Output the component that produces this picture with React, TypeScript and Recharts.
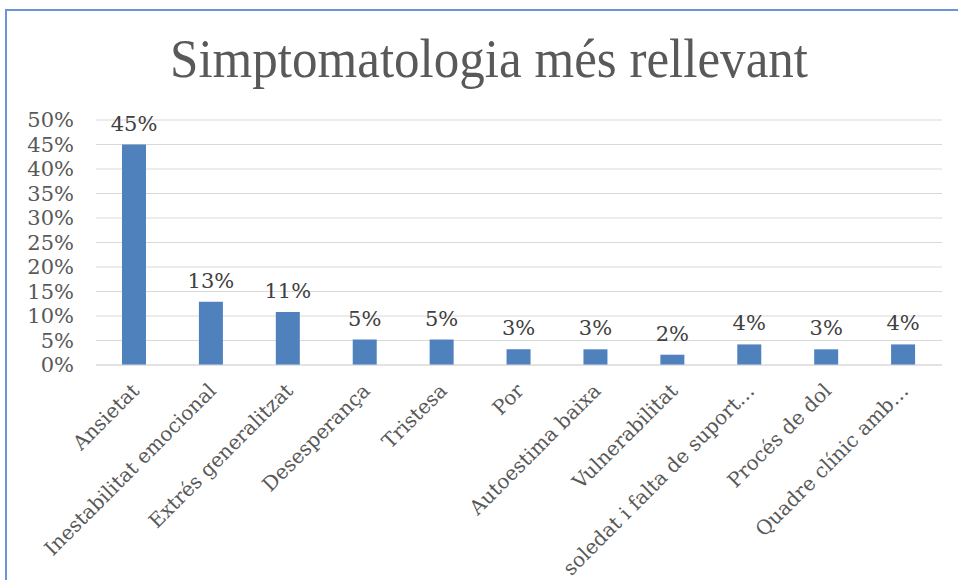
import { BarChart, Bar, XAxis, YAxis, CartesianGrid, LabelList } from 'recharts';

const categories = [
    'Ansietat',
    'Inestabilitat emocional',
    'Extrés generalitzat',
    'Desesperança',
    'Tristesa',
    'Por',
    'Autoestima baixa',
    'Vulnerabilitat',
    'soledat i falta de suport…',
    'Procés de dol',
    'Quadre clínic amb…',
];
const shares = [0.45, 0.129, 0.108, 0.052, 0.052, 0.032, 0.032, 0.021, 0.042, 0.032, 0.042];
const yTicks = [0, 0.05, 0.1, 0.15, 0.2, 0.25, 0.3, 0.35, 0.4, 0.45, 0.5];

const data = categories.map((name, i) => ({ name, share: shares[i] }));

const FONT = '"DejaVu Serif", serif';
const pct = (v: number) => `${Math.round(v * 100)}%`;

function XTick({ x, y, payload }: any) {
    return (
        <g transform={`translate(${x + 6},${y + 19})`}>
            <text
                transform='rotate(-45)'
                textAnchor='end'
                fill='#595959'
                fontSize={20}
                fontFamily={FONT}
            >
                {payload.value}
            </text>
        </g>
    );
}

export default function App() {
    return (
        <div
            style={{
                position: 'absolute',
                left: 0,
                top: 0,
                width: 958,
                height: 580,
                overflow: 'hidden',
                background: '#fff',
                fontFamily: FONT,
            }}
        >
            <div
                style={{
                    position: 'absolute',
                    left: 5,
                    top: 9,
                    width: 980,
                    height: 600,
                    borderLeft: '2px solid #6A95D6',
                    borderTop: '2px solid #6A95D6',
                    zIndex: 2,
                }}
            />
            <svg
                width={958}
                height={110}
                style={{ position: 'absolute', left: 0, top: 0 }}
            >
                <text
                    x={170}
                    y={77}
                    textLength={638}
                    lengthAdjust='spacingAndGlyphs'
                    fill='#595959'
                    fontSize={54}
                    fontFamily='"Liberation Serif", serif'
                >
                    Simptomatologia més rellevant
                </text>
            </svg>
            <div style={{ position: 'absolute', left: 0, top: 0 }}>
                <BarChart
                    width={958}
                    height={580}
                    data={data}
                    margin={{ top: 120, right: 16, left: 0, bottom: 0 }}
                >
                    <CartesianGrid vertical={false} stroke='#D9D9D9' />
                    <XAxis
                        dataKey='name'
                        interval={0}
                        height={215}
                        tickLine={false}
                        axisLine={{ stroke: '#D9D9D9' }}
                        tick={<XTick />}
                    />
                    <YAxis
                        width={96}
                        domain={[0, 0.5]}
                        ticks={yTicks}
                        interval={0}
                        tickFormatter={pct}
                        axisLine={false}
                        tickLine={false}
                        tickSize={0}
                        tickMargin={22}
                        tick={{ fill: '#595959', fontSize: 21, fontFamily: FONT }}
                    />
                    <Bar
                        dataKey='share'
                        fill='#4F81BD'
                        barSize={24}
                        isAnimationActive={false}
                    >
                        <LabelList
                            dataKey='share'
                            position='top'
                            offset={14}
                            formatter={(v: any) => pct(Number(v))}
                            fill='#404040'
                            fontSize={21}
                            fontFamily={FONT}
                        />
                    </Bar>
                </BarChart>
            </div>
        </div>
    );
}
